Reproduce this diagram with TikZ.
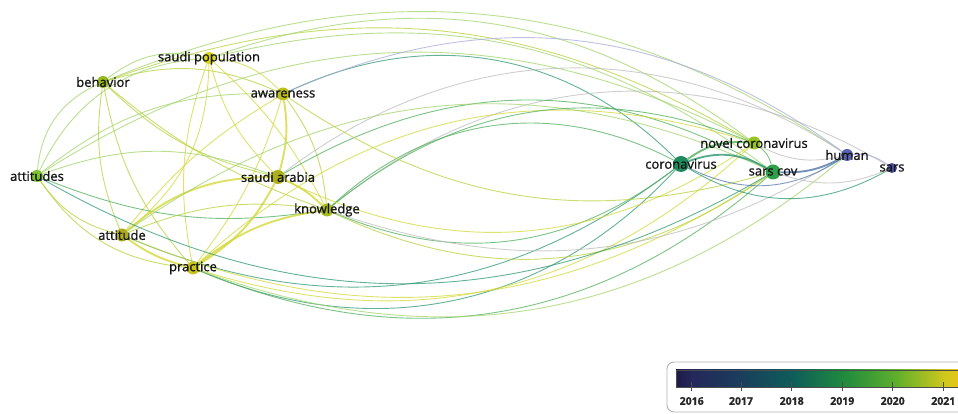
\documentclass[tikz,border=0pt]{standalone}
\usepackage{fontspec}
\newfontfamily\vosfont[FakeBold=0.9]{Open Sans}
\pgfdeclarelayer{links}
\pgfsetlayers{links,main}

% node colours (overlay year)
\definecolor{cPop}{HTML}{D9D41C}\definecolor{cPra}{HTML}{C8C41A}\definecolor{cAwa}{HTML}{BEC018}
\definecolor{cSa}{HTML}{ABB01A}\definecolor{cKn}{HTML}{A8BC20}\definecolor{cAtt}{HTML}{ACAB1E}
\definecolor{cBeh}{HTML}{97B81E}\definecolor{cAtts}{HTML}{7EC232}\definecolor{cNcov}{HTML}{97C41E}
\definecolor{cCor}{HTML}{1E8A5E}\definecolor{cScov}{HTML}{2F9E4A}\definecolor{cHum}{HTML}{5A62B0}
\definecolor{cSars}{HTML}{4B4F9C}
% link colours
\definecolor{lYel}{HTML}{D4D838}\definecolor{lYg}{HTML}{B6D23A}\definecolor{lLg}{HTML}{A2D46C}
\definecolor{lGr}{HTML}{4FAF5A}\definecolor{lTl}{HTML}{2F9872}\definecolor{lBl}{HTML}{4F78A8}
\definecolor{lGy}{HTML}{BDBDBD}\definecolor{lLv}{HTML}{A8ACD8}
% colour bar
\definecolor{bar0}{HTML}{1E1A48}\definecolor{bar16}{HTML}{25275A}\definecolor{bar17}{HTML}{1A3E5C}
\definecolor{bar18}{HTML}{0F5D5A}\definecolor{bar19}{HTML}{1F8A3E}\definecolor{bar20}{HTML}{5DAE2C}
\definecolor{bar21}{HTML}{D2C81C}\definecolor{bar22}{HTML}{E8C619}
\pgfdeclarehorizontalshading{vosbar}{100bp}{color(0bp)=(bar0); color(25bp)=(bar0); color(27.8bp)=(bar16);
 color(36.5bp)=(bar17); color(45.5bp)=(bar18); color(54.5bp)=(bar19); color(63.5bp)=(bar20);
 color(72.5bp)=(bar21); color(75bp)=(bar22); color(100bp)=(bar22)}

\tikzset{
 kw/.style={circle,inner sep=0pt,draw=none},
 kwl/.style={font=\vosfont\fontsize{13}{13}\selectfont,text=black!92,inner sep=0pt},
 lnk/.style={line width=0.9pt,opacity=0.75},
 hvy/.style={line width=1.9pt,opacity=0.8},
 yrlbl/.style={font=\vosfont\fontsize{10.5}{10.5}\selectfont\bfseries,text=black!85,inner sep=0pt}
}

\begin{document}
\begin{tikzpicture}[x=1pt,y=1pt]
\useasboundingbox (0,0) rectangle (958,414);
% keywords
\node[kw,fill=cPop,minimum size=12pt,label={[kwl]center:saudi population}](pop) at (209,356){};
\node[kw,fill=cBeh,minimum size=12pt,label={[kwl]center:behavior}](beh) at (103,332){};
\node[kw,fill=cAwa,minimum size=13pt,label={[kwl]center:awareness}](awa) at (283,320){};
\node[kw,fill=cAtts,minimum size=12pt,label={[kwl]center:attitudes}](atts) at (37,238){};
\node[kw,fill=cSa,minimum size=14pt,label={[kwl]center:saudi arabia}](sa) at (278,237){};
\node[kw,fill=cKn,minimum size=13pt,label={[kwl]center:knowledge}](kn) at (327,204){};
\node[kw,fill=cAtt,minimum size=13pt,label={[kwl]center:attitude}](att) at (122,179){};
\node[kw,fill=cPra,minimum size=13pt,label={[kwl]center:practice}](pra) at (193,146){};
\node[kw,fill=cNcov,minimum size=13pt,label={[kwl]center:novel coronavirus}](ncov) at (754,271){};
\node[kw,fill=cCor,minimum size=16pt,label={[kwl]center:coronavirus}](cor) at (681,250){};
\node[kw,fill=cScov,minimum size=15pt,label={[kwl]center:sars cov}](scov) at (773,242){};
\node[kw,fill=cHum,minimum size=12pt,label={[kwl]center:human}](hum) at (847,259){};
\node[kw,fill=cSars,minimum size=10pt,label={[kwl]center:sars}](sars) at (892,246){};

\begin{pgfonlayer}{links}
% saudi cluster
\draw[lnk,lLg](beh) to[bend left=25](pop);\draw[lnk,lYg](beh) to[bend left=20](awa);\draw[lnk,lLg](atts) to[bend left=30](beh);
\draw[lnk,lYg](beh) to[bend right=15](att);\draw[lnk,lYg](beh) to[bend right=15](pra);\draw[lnk,lYg](beh) to[bend right=15](sa);
\draw[lnk,lYg](beh) to[bend right=10](kn);\draw[lnk,lYel](pop) to[bend left=20](awa);\draw[lnk,lYel](pop) to[bend right=15](sa);
\draw[lnk,lYel](pop) to[bend left=10](kn);\draw[lnk,lYel](pop) to[bend right=15](pra);\draw[lnk,lYel](pop) to[bend left=25](att);
\draw[lnk,lLg](pop) to[bend right=30](atts);\draw[hvy,lYel](awa) to[bend left=12](sa);\draw[lnk,lYg](awa) to[bend left=15](kn);
\draw[lnk,lYel](awa) to[bend right=10](att);\draw[lnk,lYel](awa) to[bend left=10](pra);\draw[lnk,lLg](atts) to[bend left=20](sa);
\draw[lnk,lGr](atts) to[bend right=15](kn);\draw[lnk,lYg](atts) to[bend right=20](att);\draw[lnk,lYg](atts) to[bend right=25](pra);
\draw[lnk,lLg](atts) to[bend left=20](awa);\draw[hvy,lYel](sa) to[bend left=10](kn);\draw[hvy,lYel](att) to[bend left=20](sa);
\draw[hvy,lYel](pra) to[bend right=15](sa);\draw[hvy,lYel](pra) to[bend left=15](kn);\draw[hvy,lYel](att) to[bend right=10](pra);
\draw[lnk,lYg](att) to[bend left=15](kn);
% across, over the top
\draw[lnk,lLg](beh) to[bend left=28](hum);\draw[lnk,lYg](beh) to[bend left=25](ncov);\draw[lnk,lLg](pop) to[bend left=28](ncov);
\draw[lnk,lLg](pop) to[bend left=25](scov);\draw[lnk,lLg](atts) to[bend left=30](ncov);\draw[lnk,lTl](awa) to[bend left=35](cor);
\draw[lnk,lGy](sa) to[bend left=35](hum);\draw[lnk,lGy](kn) to[bend left=35](sars);\draw[lnk,lGr](sa) to[bend left=30](scov);
\draw[lnk,lYel](pra) to[bend left=30](ncov);\draw[lnk,lLg](att) to[bend left=30](scov);\draw[lnk,lGr](kn) to[bend left=30](ncov);
\draw[lnk,lGr](kn) to[bend left=35](cor);\draw[lnk,lLv](awa) to[bend left=30](hum);
% across, underneath
\draw[lnk,lTl](pra) to[bend right=35](cor);\draw[lnk,lGr](pra) to[bend right=32](scov);\draw[lnk,lYel](pra) to[bend right=30](ncov);
\draw[lnk,lTl](att) to[bend right=30](cor);\draw[lnk,lYel](att) to[bend right=28](scov);\draw[lnk,lGr](kn) to[bend right=30](cor);
\draw[lnk,lYg](kn) to[bend right=30](scov);\draw[lnk,lGy](kn) to[bend right=25](hum);\draw[lnk,lYel](sa) to[bend right=30](ncov);
\draw[lnk,lYg](awa) to[bend right=25](scov);\draw[lnk,lTl](atts) to[bend right=30](scov);\draw[lnk,lLg](pra) to[bend right=30](hum);
% covid cluster
\draw[hvy,lGr](cor) to[bend left=20](ncov);\draw[hvy,lTl](cor) to[bend left=25](scov);\draw[lnk,lBl](cor) to[bend right=30](hum);
\draw[lnk,lTl](cor) to[bend right=30](sars);\draw[lnk,lGr](ncov) to[bend left=20](scov);\draw[lnk,lGy](ncov) to[bend right=20](hum);
\draw[hvy,lBl](scov) to[bend right=15](hum);\draw[lnk,lGy](scov) to[bend right=20](sars);\draw[lnk,lLv](hum) to[bend left=20](sars);
\end{pgfonlayer}

% year legend
\draw[gray!60,line width=0.9pt,rounded corners=7pt](667,2) rectangle (980,52);
\shade[shading=vosbar](676,27) rectangle (960,44);
\draw[black!70,line width=0.8pt](676,27) rectangle (960,44);
\foreach \yr/\xx in {2016/691.7,2017/741,2018/791.7,2019/842.3,2020/892.7,2021/943.3}{
 \draw[black!70,line width=0.8pt](\xx,32)--(\xx,23);
 \node[yrlbl](y\yr) at (\xx,13){\yr};}
\end{tikzpicture}
\end{document}
